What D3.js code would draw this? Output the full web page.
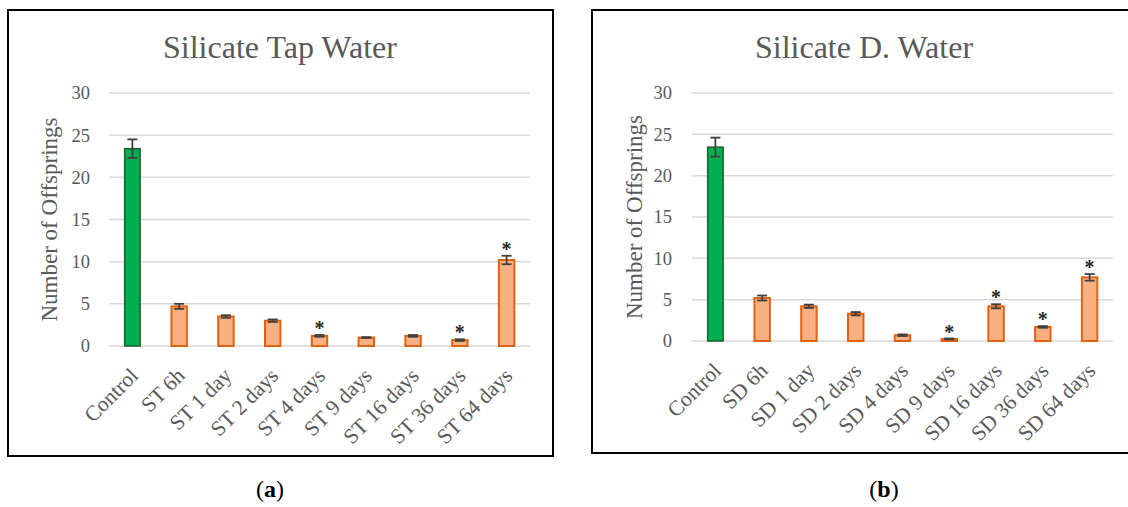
<!DOCTYPE html>
<html>
<head>
<meta charset="utf-8">
<script src="https://cdn.jsdelivr.net/npm/d3@7"></script>
<style>
  html, body { margin: 0; padding: 0; background: #ffffff; }
  svg { display: block; }
  text { font-family: "Liberation Serif", "Times New Roman", serif; }
</style>
</head>
<body>
<svg id="chart" width="1128" height="507"></svg>
<script>
// ---- data ----
const categoriesA = ["Control", "ST 6h", "ST 1 day", "ST 2 days", "ST 4 days", "ST 9 days", "ST 16 days", "ST 36 days", "ST 64 days"];
const valuesA = [23.4, 4.7, 3.5, 3.0, 1.2, 1.0, 1.2, 0.7, 10.2];
const errorsA = [1.1, 0.3, 0.15, 0.15, 0.1, 0.05, 0.1, 0.1, 0.5];
const starsA = [false, false, false, false, true, false, false, true, true];

const categoriesB = ["Control", "SD 6h", "SD 1 day", "SD 2 days", "SD 4 days", "SD 9 days", "SD 16 days", "SD 36 days", "SD 64 days"];
const valuesB = [23.45, 5.2, 4.2, 3.3, 0.7, 0.25, 4.2, 1.7, 7.7];
const errorsB = [1.15, 0.3, 0.2, 0.2, 0.1, 0.05, 0.25, 0.1, 0.4];
const starsB = [false, false, false, false, false, true, true, true, true];

const titles = ["Silicate Tap Water", "Silicate D. Water"];
const captions = ["a", "b"];
const yTicks = [0, 5, 10, 15, 20, 25, 30];
const yLabel = "Number of Offsprings";

// ---- drawing ----
const svg = d3.select("#chart");
const TEXT = "#595959";

function drawPanel(p) {
  const g = svg.append("g");
  // frame
  g.append("rect")
    .attr("x", p.box[0]).attr("y", p.box[1])
    .attr("width", p.box[2] - p.box[0]).attr("height", p.box[3] - p.box[1])
    .attr("fill", "none").attr("stroke", "#000").attr("stroke-width", 2);

  const x = d3.scaleBand().domain(p.categories).range(p.xRange)
    .paddingInner(0.67).paddingOuter(0.335);
  const y = d3.scaleLinear().domain([0, 30]).range(p.yRange);

  // gridlines
  g.append("g").selectAll("line").data(yTicks).join("line")
    .attr("x1", p.xRange[0]).attr("x2", p.xRange[1])
    .attr("y1", d => y(d)).attr("y2", d => y(d))
    .attr("stroke", "#d9d9d9").attr("stroke-width", 1.5);

  // y tick labels
  g.append("g").selectAll("text").data(yTicks).join("text")
    .attr("x", p.tickX).attr("y", d => y(d)).attr("dy", "0.35em")
    .attr("text-anchor", "end").attr("font-size", 18.5).attr("fill", TEXT)
    .text(d => d);

  // y title
  g.append("text")
    .attr("transform", `translate(${p.yTitleX},${(p.yRange[0] + p.yRange[1]) / 2}) rotate(-90)`)
    .attr("text-anchor", "middle").attr("font-size", 23).attr("fill", TEXT)
    .text(yLabel);

  // title
  g.append("text")
    .attr("x", p.titleX).attr("y", 58)
    .attr("text-anchor", "middle").attr("font-size", 32).attr("fill", TEXT)
    .text(p.title);

  const data = p.categories.map((c, i) => ({ c, v: p.values[i], e: p.errors[i], s: p.stars[i], i }));

  // bars
  g.append("g").selectAll("rect").data(data).join("rect")
    .attr("x", d => x(d.c)).attr("width", x.bandwidth())
    .attr("y", d => y(d.v)).attr("height", d => y(0) - y(d.v))
    .attr("fill", d => d.i === 0 ? "#00b050" : "#f9b184")
    .attr("stroke", d => d.i === 0 ? "#1d5e2e" : "#e2620f")
    .attr("stroke-width", d => d.i === 0 ? 1.5 : 2);

  // error bars
  const eg = g.append("g").attr("stroke", "#404040").attr("stroke-width", 1.8);
  const cap = 5;
  data.forEach(d => {
    const cx = x(d.c) + x.bandwidth() / 2;
    eg.append("line").attr("x1", cx).attr("x2", cx).attr("y1", y(d.v + d.e)).attr("y2", y(d.v - d.e));
    eg.append("line").attr("x1", cx - cap).attr("x2", cx + cap).attr("y1", y(d.v + d.e)).attr("y2", y(d.v + d.e));
    eg.append("line").attr("x1", cx - cap).attr("x2", cx + cap).attr("y1", y(d.v - d.e)).attr("y2", y(d.v - d.e));
  });

  // significance stars
  g.append("g").selectAll("text").data(data.filter(d => d.s)).join("text")
    .attr("x", d => x(d.c) + x.bandwidth() / 2)
    .attr("y", d => y(d.v + d.e))
    .attr("text-anchor", "middle").attr("font-size", 20).attr("font-weight", "bold").attr("fill", "#262626")
    .text("*");

  // x labels
  g.append("g").selectAll("text").data(p.categories).join("text")
    .attr("transform", c => `translate(${x(c) + x.bandwidth() / 2 + 7},${y(0) + 31}) rotate(-45)`)
    .attr("text-anchor", "end").attr("font-size", 21.5).attr("fill", TEXT)
    .text(c => c);

  // caption
  const cap1 = svg.append("text")
    .attr("x", p.captionX).attr("y", 497)
    .attr("text-anchor", "middle").attr("font-size", 24).attr("fill", "#000");
  cap1.append("tspan").text("(");
  cap1.append("tspan").attr("font-weight", "bold").text(p.caption);
  cap1.append("tspan").text(")");
}

drawPanel({
  box: [8, 10, 553, 456], xRange: [109, 530], yRange: [346, 93],
  categories: categoriesA, values: valuesA, errors: errorsA, stars: starsA,
  title: titles[0], titleX: 280, tickX: 90, yTitleX: 57, caption: captions[0], captionX: 270
});
drawPanel({
  box: [592, 10, 1140, 453], xRange: [692, 1113], yRange: [341, 93],
  categories: categoriesB, values: valuesB, errors: errorsB, stars: starsB,
  title: titles[1], titleX: 864, tickX: 672, yTitleX: 642, caption: captions[1], captionX: 884
});
</script>
</body>
</html>
